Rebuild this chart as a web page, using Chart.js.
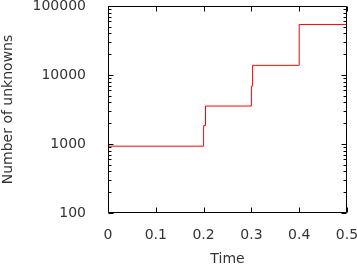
<!DOCTYPE html>
<html>
<head>
<meta charset="utf-8">
<script src="https://cdn.jsdelivr.net/npm/chart.js@4"></script>
<style>
  html, body { margin: 0; padding: 0; background: #fff; }
  #wrap { width: 357px; height: 265px; }
</style>
</head>
<body>
<div id="wrap"><canvas id="chart"></canvas></div>
<script>
// data
const times = [0, 0.2, 0.204, 0.3, 0.3025, 0.4, 0.5];
const unknowns = [930, 1850, 3550, 6900, 13800, 54000, 54000];
const xTicks = [0, 0.1, 0.2, 0.3, 0.4, 0.5];
const yTicks = [100, 1000, 10000, 100000];

const font = { family: 'DejaVu Sans', size: 14 };
const textColor = '#333';

// gnuplot-ish frame with inward ticks on all four sides
const framePlugin = {
  id: 'frame',
  afterDraw(chart) {
    const { ctx, chartArea: a, scales } = chart;
    const L = Math.round(a.left) + 0.5, R = Math.round(a.right) - 0.5;
    const T = Math.round(a.top) + 0.5, B = Math.round(a.bottom) - 0.5;
    ctx.save();
    ctx.strokeStyle = '#000';
    ctx.lineWidth = 1;
    ctx.beginPath();
    ctx.rect(L, T, R - L, B - T);
    xTicks.forEach(v => {
      const px = Math.round(scales.x.getPixelForValue(v)) + 0.5;
      ctx.moveTo(px, B); ctx.lineTo(px, B - 5);
      ctx.moveTo(px, T); ctx.lineTo(px, T + 5);
    });
    yTicks.forEach((d, i) => {
      const py = Math.round(scales.y.getPixelForValue(d)) + 0.5;
      ctx.moveTo(L, py); ctx.lineTo(L + 5, py);
      ctx.moveTo(R, py); ctx.lineTo(R - 5, py);
      if (i === yTicks.length - 1) return;
      for (let k = 2; k <= 9; k++) {
        const my = Math.round(scales.y.getPixelForValue(d * k)) + 0.5;
        ctx.moveTo(L, my); ctx.lineTo(L + 3, my);
        ctx.moveTo(R, my); ctx.lineTo(R - 3, my);
      }
    });
    ctx.stroke();
    ctx.restore();
  }
};

new Chart(document.getElementById('chart'), {
  type: 'line',
  data: {
    datasets: [{
      data: times.map((t, i) => ({ x: t, y: unknowns[i] })),
      borderColor: '#ff0000',
      borderWidth: 1,
      pointRadius: 0,
      stepped: true,
      fill: false
    }]
  },
  options: {
    responsive: true,
    maintainAspectRatio: false,
    animation: false,
    layout: { padding: { top: 6, right: 10, left: 0, bottom: 0 } },
    plugins: { legend: { display: false }, tooltip: { enabled: false } },
    scales: {
      x: {
        type: 'linear',
        min: 0,
        max: 0.5,
        grid: { display: false },
        border: { display: false },
        afterBuildTicks: s => { s.ticks = xTicks.map(v => ({ value: v })); },
        afterFit: s => { s.height = 52; s.paddingLeft = 0; s.paddingRight = 0; },
        ticks: {
          padding: 6,
          maxRotation: 0,
          autoSkip: false,
          font: font,
          color: textColor,
          callback: v => String(Math.round(v * 10) / 10)
        },
        title: { display: true, text: 'Time', font: font, color: textColor, padding: { top: 0, bottom: -3 } }
      },
      y: {
        type: 'logarithmic',
        min: 100,
        max: 100000,
        grid: { display: false },
        border: { display: false },
        afterBuildTicks: s => { s.ticks = yTicks.map(v => ({ value: v })); },
        afterFit: s => { s.width = 108; s.paddingTop = 0; s.paddingBottom = 0; },
        ticks: {
          padding: 14,
          autoSkip: false,
          font: font,
          color: textColor,
          callback: v => String(v)
        },
        title: { display: true, text: 'Number of unknowns', font: font, color: textColor, padding: { top: 0, bottom: 0 } }
      }
    }
  },
  plugins: [framePlugin]
});
</script>
</body>
</html>
